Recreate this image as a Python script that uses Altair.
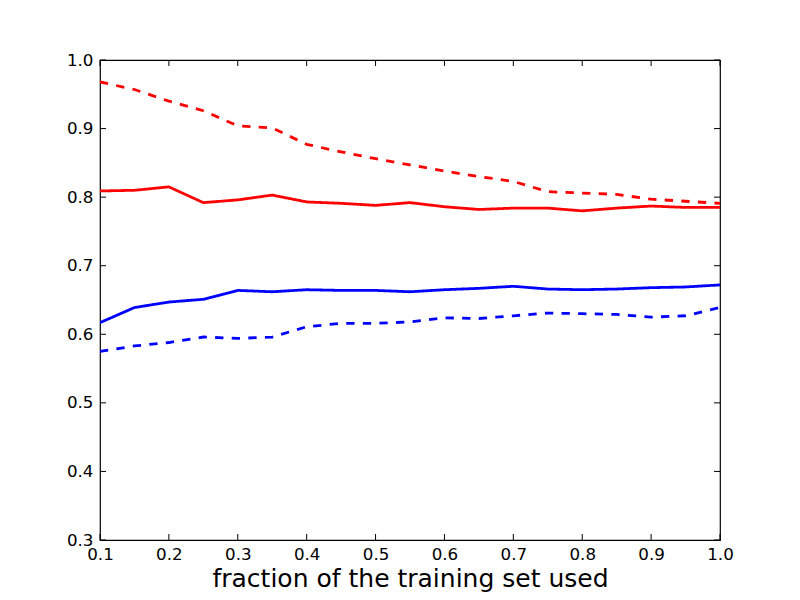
import altair as alt
import pandas as pd

fractions = [0.1, 0.15, 0.2, 0.25, 0.3, 0.35, 0.4, 0.45, 0.5, 0.55,
             0.6, 0.65, 0.7, 0.75, 0.8, 0.85, 0.9, 0.95, 1.0]
red_dashed = [0.968, 0.957, 0.940, 0.926, 0.904, 0.901, 0.877, 0.866, 0.856, 0.847,
              0.838, 0.830, 0.823, 0.808, 0.806, 0.804, 0.797, 0.794, 0.791]
red_solid = [0.809, 0.810, 0.815, 0.792, 0.796, 0.803, 0.793, 0.791, 0.788, 0.792,
             0.786, 0.782, 0.784, 0.784, 0.780, 0.784, 0.787, 0.785, 0.785]
blue_solid = [0.617, 0.639, 0.647, 0.651, 0.664, 0.662, 0.665, 0.664, 0.664, 0.662,
              0.665, 0.667, 0.670, 0.666, 0.665, 0.666, 0.668, 0.669, 0.672]
blue_dashed = [0.575, 0.583, 0.588, 0.596, 0.594, 0.596, 0.611, 0.616, 0.616, 0.618,
               0.624, 0.623, 0.627, 0.631, 0.630, 0.629, 0.625, 0.627, 0.639]

series_names = ["red_solid", "red_dashed", "blue_solid", "blue_dashed"]
series_colors = ["#ff0000", "#ff0000", "#0000ff", "#0000ff"]
series_dash = [[1, 0], [8.3, 8.3], [1, 0], [8.3, 8.3]]

x_ticks = [0.1, 0.2, 0.3, 0.4, 0.5, 0.6, 0.7, 0.8, 0.9, 1.0]
y_ticks = [0.3, 0.4, 0.5, 0.6, 0.7, 0.8, 0.9, 1.0]
x_title = "fraction of the training set used"

rows = []
for name, vals in zip(series_names, [red_solid, red_dashed, blue_solid, blue_dashed]):
    for f, v in zip(fractions, vals):
        rows.append({"fraction": f, "value": v, "series": name})
df = pd.DataFrame(rows)
xt = pd.DataFrame({"t": x_ticks})
yt = pd.DataFrame({"t": y_ticks})

W, H = 620, 480
FONT = "DejaVu Sans"

xscale = alt.Scale(domain=[0.1, 1.0], nice=False, zero=False)
yscale = alt.Scale(domain=[0.3, 1.0], nice=False, zero=False)

x_axis = alt.Axis(values=x_ticks, format=".1f", tickSize=0, domain=False, grid=False,
                  labelFont=FONT, labelFontSize=16.7, labelColor="black", labelPadding=6,
                  labelFlush=False, labelOverlap=False, title=x_title, titleFont=FONT,
                  titleFontSize=25, titleFontWeight="normal", titleColor="black",
                  titlePadding=4)
y_axis = alt.Axis(values=y_ticks, format=".1f", tickSize=0, domain=False, grid=False,
                  labelFont=FONT, labelFontSize=16.7, labelColor="black", labelPadding=7,
                  labelFlush=False, labelOverlap=False, title=None)

lines = alt.Chart(df).mark_line(strokeWidth=2.8, clip=True).encode(
    x=alt.X("fraction:Q", scale=xscale, axis=x_axis),
    y=alt.Y("value:Q", scale=yscale, axis=y_axis),
    color=alt.Color("series:N", scale=alt.Scale(domain=series_names, range=series_colors), legend=None),
    strokeDash=alt.StrokeDash("series:N", scale=alt.Scale(domain=series_names, range=series_dash), legend=None),
)

tick_len = 6
bx = alt.Chart(xt).mark_rule(color="black", strokeWidth=1).encode(
    x=alt.X("t:Q", scale=xscale), y=alt.value(H), y2=alt.value(H - tick_len))
tx = alt.Chart(xt).mark_rule(color="black", strokeWidth=1).encode(
    x=alt.X("t:Q", scale=xscale), y=alt.value(0), y2=alt.value(tick_len))
ly = alt.Chart(yt).mark_rule(color="black", strokeWidth=1).encode(
    y=alt.Y("t:Q", scale=yscale), x=alt.value(0), x2=alt.value(tick_len))
ry = alt.Chart(yt).mark_rule(color="black", strokeWidth=1).encode(
    y=alt.Y("t:Q", scale=yscale), x=alt.value(W), x2=alt.value(W - tick_len))

chart = alt.layer(lines, bx, tx, ly, ry).properties(
    width=W, height=H,
    autosize=alt.AutoSizeParams(type="none"),
    padding={"left": 92, "top": 52, "right": 72, "bottom": 52},
    background="white",
).configure_view(stroke="black", strokeWidth=1.2)

chart.save("out.html", embed_options={"renderer": "svg", "actions": False})
